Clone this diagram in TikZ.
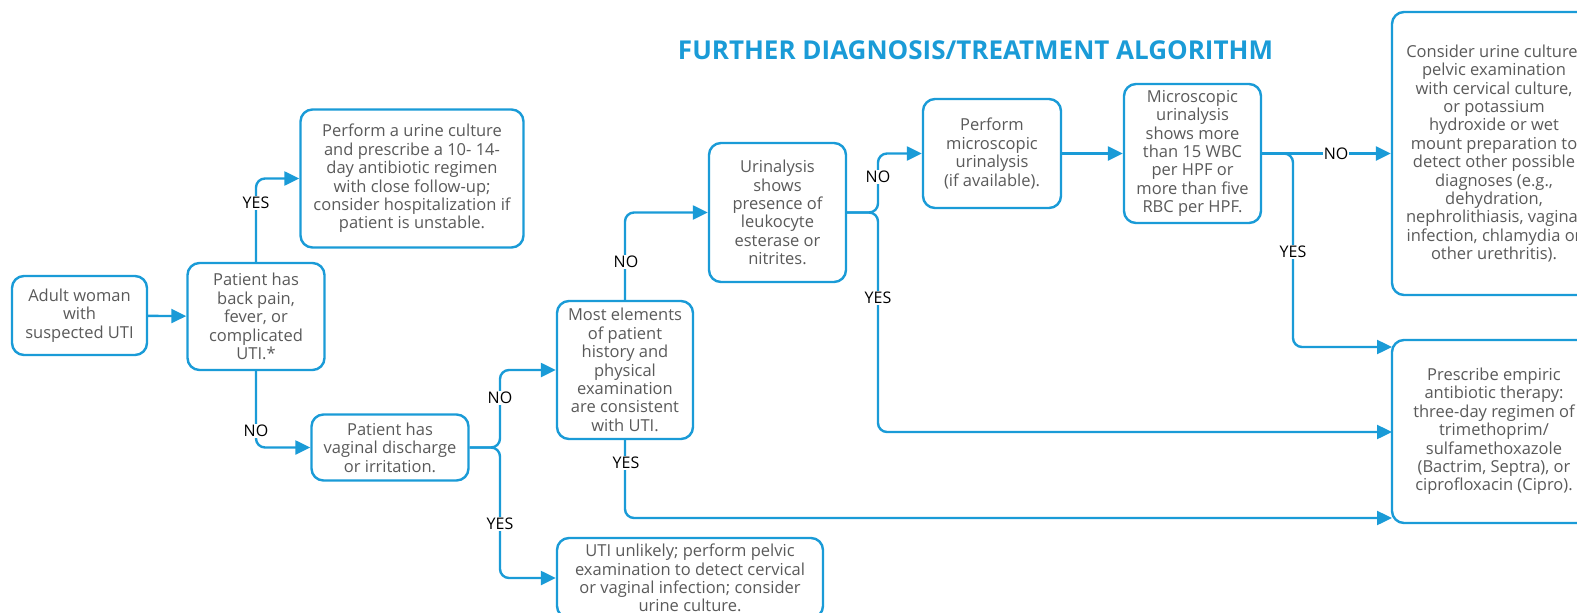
\documentclass[tikz,border=0pt]{standalone}
\usepackage{fontspec}
\usepackage{graphicx}
\setmainfont{Open Sans}
\usetikzlibrary{arrows.meta}
\definecolor{lineblue}{HTML}{1A9BD7}
\definecolor{txtgray}{HTML}{5A5A5A}
\tikzset{
  box/.style={draw=lineblue, line width=2.4pt, rounded corners=12pt, fill=white,
    align=center, inner sep=0pt, text=txtgray,
    font=\fontsize{16.5}{18.4}\selectfont},
  conn/.style={draw=lineblue, line width=2.4pt, rounded corners=9pt,
    -{Triangle[length=15pt,width=14pt]}},
  lab/.style={fill=white, text=black, inner sep=1.5pt,
    font=\fontsize{16}{17}\selectfont}
}
\begin{document}
\begin{tikzpicture}[x=1pt,y=-1pt]
\useasboundingbox (0,0) rectangle (1577,613);
\clip (0,0) rectangle (1577,613);
\node at (975.5,50) {\resizebox{595pt}{!}{\color{lineblue}\bfseries FURTHER DIAGNOSIS/TREATMENT ALGORITHM}};
% boxes
\node[box, minimum width=135pt, minimum height=79pt] (adult) at (79.5,315.5)
  {Adult woman\\with\\suspected UTI};
\node[box, minimum width=137pt, minimum height=107pt] (bp) at (256,316.5)
  {Patient has\\back pain,\\fever, or\\complicated\\UTI.*};
\node[box, minimum width=223pt, minimum height=138pt] (culture) at (412,178.5)
  {Perform a urine culture\\and prescribe a 10- 14-\\day antibiotic regimen\\with close follow-up;\\consider hospitalization if\\patient is unstable.};
\node[box, minimum width=157pt, minimum height=66pt] (vag) at (390,447.5)
  {Patient has\\vaginal discharge\\or irritation.};
\node[box, minimum width=136pt, minimum height=138pt] (most) at (625,370)
  {Most elements\\of patient\\history and\\physical\\examination\\are consistent\\with UTI.};
\node[box, minimum width=137pt, minimum height=139pt] (urin) at (777.5,212.5)
  {Urinalysis\\shows\\presence of\\leukocyte\\esterase or\\nitrites.};
\node[box, minimum width=138pt, minimum height=109pt] (perf) at (992,153.5)
  {Perform\\microscopic\\urinalysis\\(if available).};
\node[box, minimum width=137pt, minimum height=139pt] (micro) at (1192.5,153.5)
  {Microscopic\\urinalysis\\shows more\\than 15 WBC\\per HPF or\\more than five\\RBC per HPF.};
\node[box, minimum width=204pt, minimum height=283pt] (consider) at (1494,153.5)
  {Consider urine culture,\\pelvic examination\\with cervical culture,\\or potassium\\hydroxide or wet\\mount preparation to\\detect other possible\\diagnoses (e.g.,\\dehydration,\\nephrolithiasis, vaginal\\infection, chlamydia or\\other urethritis).};
\node[box, minimum width=204pt, minimum height=183pt] (presc) at (1494,431.5)
  {Prescribe empiric\\antibiotic therapy:\\three-day regimen of\\trimethoprim/\\sulfamethoxazole\\(Bactrim, Septra), or\\ciprofloxacin (Cipro).};
\node[box, minimum width=266pt, minimum height=80pt] (uti) at (690,578)
  {UTI unlikely; perform pelvic\\examination to detect cervical\\or vaginal infection; consider\\urine culture.};
% helper coordinates
\coordinate (j1a) at (500,370);
\coordinate (j1b) at (500,578);
\coordinate (j2a) at (878,153.5);
\coordinate (j2b) at (878,432);
\coordinate (j3) at (1293,347);
\coordinate (p1) at (1392,347);
\coordinate (p2) at (1392,432);
\coordinate (p3) at (1392,518);
% connectors
\draw[conn] (adult) -- (bp);
\draw[conn] (bp.north) |- (culture.west);
\draw[conn] (bp.south) |- (vag.west);
\draw[conn] (vag.east) -| (j1a) -- (most.west);
\draw[conn] (vag.east) -| (j1b) -- (uti.west);
\draw[conn] (most.north) |- (urin.west);
\draw[conn] (most.south) |- (p3);
\draw[conn] (urin.east) -| (j2a) -- (perf.west);
\draw[conn] (urin.east) -| (j2b) -- (p2);
\draw[conn] (perf) -- (micro);
\draw[conn] (micro.east) -- (consider.west);
\draw[conn] (micro.east) -| (j3) -- (p1);
% labels
\node[lab] at (256,203) {YES};
\node[lab] at (256,431) {NO};
\node[lab] at (500,398) {NO};
\node[lab] at (500,524) {YES};
\node[lab] at (626,262) {NO};
\node[lab] at (626,463) {YES};
\node[lab] at (878,177) {NO};
\node[lab] at (878,298) {YES};
\node[lab] at (1293,252) {YES};
\node[lab, inner sep=0.5pt] at (1336,153.5) {NO};
\end{tikzpicture}
\end{document}
